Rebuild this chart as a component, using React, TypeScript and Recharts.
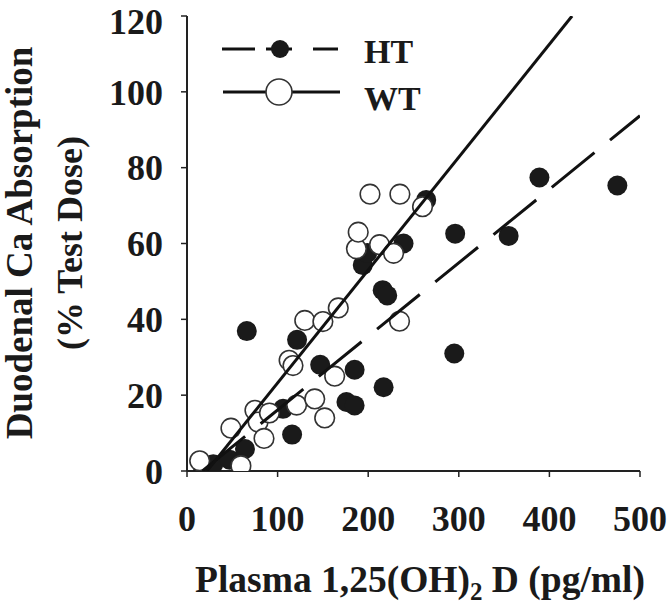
import React from "react";
import { ScatterChart, Scatter, XAxis, YAxis } from "recharts";

const HT_X = [18, 29, 47, 64, 66, 106, 116, 121.5, 147, 176, 185, 185, 194, 199, 216, 221, 217, 239, 264, 296, 295, 355, 389, 475];
const HT_Y = [0.5, 1.8, 3, 5.8, 36.9, 16.4, 9.6, 34.6, 28, 18.2, 17.3, 26.7, 54.3, 57.5, 47.7, 46.3, 22.1, 60, 71.5, 62.6, 31, 62, 77.4, 75.3];

const WT_X = [14, 48.5, 59.5, 75, 78.5, 85, 91, 112.7, 117, 121, 130, 141, 150, 152, 163, 167, 187, 189, 202, 212.5, 228, 235, 234.6, 260];
const WT_Y = [2.7, 11.3, 1.4, 16, 12.9, 8.6, 15.3, 29.2, 27.8, 17.4, 39.7, 19, 39.4, 14, 25, 43, 58.6, 63, 73, 59.7, 57.4, 73, 39.5, 69.7];

const HT_FIT_X = [17, 500];
const HT_FIT_Y = [0, 93.7];
const WT_FIT_X = [22, 425];
const WT_FIT_Y = [0, 120];

const X_TICKS = [0, 100, 200, 300, 400, 500];
const Y_TICKS = [0, 20, 40, 60, 80, 100, 120];

const SERIES = ["HT", "WT"];

const zip = (xs: number[], ys: number[]) => xs.map((x, i) => ({ x, y: ys[i] }));

const htData = zip(HT_X, HT_Y);
const wtData = zip(WT_X, WT_Y);
const htFit = zip(HT_FIT_X, HT_FIT_Y);
const wtFit = zip(WT_FIT_X, WT_FIT_Y);

const FONT = "'Liberation Serif', 'Times New Roman', serif";
const INK = "#1a1a1a";

const tickStyle = { fontFamily: FONT, fontWeight: 700, fontSize: 36, fill: INK };

const Filled = (p: any) => <circle cx={p.cx} cy={p.cy} r={10} fill={INK} />;
const Open = (p: any) => (
  <circle cx={p.cx} cy={p.cy} r={9.8} fill="#fff" stroke="#333" strokeWidth={1.6} />
);
const Nothing = () => <g />;

export default function App() {
  return (
    <div style={{ position: "absolute", left: 0, top: 0, width: 672, height: 609, background: "#fff" }}>
      <ScatterChart width={672} height={609} margin={{ top: 16, right: 32, bottom: 0, left: 0 }}>
        <XAxis
          type="number"
          dataKey="x"
          domain={[0, 500]}
          ticks={X_TICKS}
          tickSize={6}
          tickMargin={28}
          height={138}
          axisLine={{ stroke: "#222", strokeWidth: 2 }}
          tickLine={{ stroke: "#222", strokeWidth: 1.5 }}
          tick={tickStyle}
          allowDataOverflow
        />
        <YAxis
          type="number"
          dataKey="y"
          domain={[0, 120]}
          ticks={Y_TICKS}
          tickSize={6}
          tickMargin={18}
          width={187}
          axisLine={{ stroke: "#222", strokeWidth: 2 }}
          tickLine={{ stroke: "#222", strokeWidth: 1.5 }}
          tick={tickStyle}
          allowDataOverflow
        />
        <Scatter data={htData} shape={Filled} isAnimationActive={false} />
        <Scatter data={wtData} shape={Open} isAnimationActive={false} />
        <Scatter
          data={htFit}
          shape={Nothing}
          line={{ stroke: "#111", strokeWidth: 3, strokeDasharray: "55 20" }}
          isAnimationActive={false}
        />
        <Scatter
          data={wtFit}
          shape={Nothing}
          line={{ stroke: "#111", strokeWidth: 3 }}
          isAnimationActive={false}
        />
      </ScatterChart>
      <svg
        width={672}
        height={609}
        style={{ position: "absolute", left: 0, top: 0, pointerEvents: "none" }}
      >
        <g>
          <line x1={222} y1={49} x2={255} y2={49} stroke="#111" strokeWidth={3} />
          <line x1={266} y1={49} x2={292} y2={49} stroke="#111" strokeWidth={3} />
          <line x1={313} y1={49} x2={338} y2={49} stroke="#111" strokeWidth={3} />
          <circle cx={280} cy={49} r={9} fill={INK} />
          <text x={364} y={63} fontFamily={FONT} fontWeight={700} fontSize={34} fill={INK}>
            {SERIES[0]}
          </text>
          <line x1={223} y1={92} x2={340} y2={92} stroke="#111" strokeWidth={3} />
          <circle cx={279} cy={92} r={13} fill="#fff" stroke="#333" strokeWidth={1.6} />
          <text x={364} y={110} fontFamily={FONT} fontWeight={700} fontSize={34} fill={INK}>
            {SERIES[1]}
          </text>
        </g>
        <text
          x={32}
          y={243}
          transform="rotate(-90 32 243)"
          textAnchor="middle"
          fontFamily={FONT}
          fontWeight={700}
          fontSize={37}
          fill={INK}
        >
          Duodenal Ca Absorption
        </text>
        <text
          x={82}
          y={243}
          transform="rotate(-90 82 243)"
          textAnchor="middle"
          fontFamily={FONT}
          fontWeight={700}
          fontSize={36}
          fill={INK}
        >
          (% Test Dose)
        </text>
        <text
          x={420}
          y={592}
          textAnchor="middle"
          fontFamily={FONT}
          fontWeight={700}
          fontSize={37.5}
          fill={INK}
        >
          Plasma 1,25(OH)
          <tspan fontSize={25} dy={8}>2</tspan>
          <tspan dy={-8}> D (pg/ml)</tspan>
        </text>
      </svg>
    </div>
  );
}
